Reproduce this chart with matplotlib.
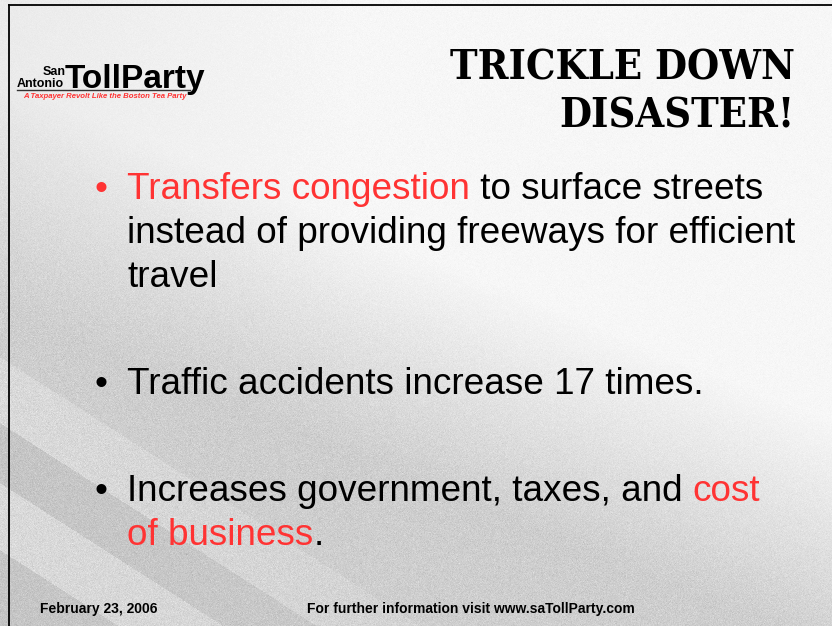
import numpy as np
import matplotlib
matplotlib.use("Agg")
from matplotlib import pyplot as plt

W, H = 832, 626
RED = "#ff3333"

title_lines = ["TRICKLE DOWN", "DISASTER!"]
logo_small = ["San", "Antonio"]
logo_big = "TollParty"
logo_tagline = "A Taxpayer Revolt Like the Boston Tea Party"

# each bullet: list of lines, each line a list of (text, is_red) pieces
bullets = [
    [[("Transfers congestion", True), (" to surface streets", False)],
     [("instead of providing freeways for efficient", False)],
     [("travel", False)]],
    [[("Traffic accidents increase 17 times.", False)]],
    [[("Increases government, taxes, and ", False), ("cost", True)],
     [("of business", True), (".", False)]],
]
bullet_red = [True, False, False]
bullet_baselines = [199, 394, 501]
line_step = 44

footer_date = "February 23, 2006"
footer_info = "For further information visit www.saTollParty.com"

plt.rcParams["font.family"] = ["Liberation Sans", "DejaVu Sans"]

fig = plt.figure(figsize=(W / 100, H / 100), dpi=100)
ax = fig.add_axes([0, 0, 1, 1])
ax.set_xlim(0, W)
ax.set_ylim(H, 0)
ax.axis("off")

# textured road background: light top / right, grey lower left, diagonal stripes
yy, xx = np.mgrid[0:H, 0:W].astype(float)
v = np.clip((yy - (80 + 0.41 * xx)) / 230, 0, 1)
top_left = 0.3 * np.clip(1 - xx / 350, 0, 1) * (1 - v)
bg = 0.965 - 0.16 * np.clip(v + top_left, 0, 1)
p = yy - 0.64 * xx
for lo, hi, d in [(357, 423, 0.045), (423, 483, -0.035), (483, 550, 0.045),
                  (550, 700, -0.035)]:
    band = (p > lo) & (p < hi)
    bg[band] += d * np.clip(1 - xx[band] / 750, 0, 1)
rng = np.random.default_rng(3)
bg += rng.normal(0, 0.015, bg.shape) * (0.4 + v)
bg = np.clip(bg, 0, 1)
ax.imshow(bg, cmap="gray", vmin=0, vmax=1, extent=(0, W, H, 0), aspect="auto", zorder=0)

# frame lines
ax.plot([9, W], [5, 5], color="black", lw=1.3, zorder=1)
ax.plot([9, 9], [5, H], color="black", lw=1.3, zorder=1)

# logo
ax.text(54, 75, logo_small[0], fontsize=9, fontweight="bold", ha="center", va="baseline")
ax.text(40, 87, logo_small[1], fontsize=9, fontweight="bold", ha="center", va="baseline")
ax.text(65, 88, logo_big, fontsize=24, fontweight="bold", ha="left", va="baseline")
ax.plot([17, 190], [90, 90], color="#333333", lw=1.0)
ax.text(105, 98.5, logo_tagline, fontsize=5.6, fontweight="bold", style="italic",
        color=RED, ha="center", va="baseline")

# title, sized to span the same width as the original
fig.canvas.draw()
renderer = fig.canvas.get_renderer()
inv = ax.transData.inverted()
probe = ax.text(0, 0, title_lines[0], fontsize=30, fontweight="heavy",
                family="DejaVu Serif", fontstretch="condensed")
tw = probe.get_window_extent(renderer).width
probe.remove()
title_fs = 30 * 345 / tw
for i, line in enumerate(title_lines):
    ax.text(795, 80 + i * 47, line, fontsize=title_fs, fontweight="heavy",
            family="DejaVu Serif", fontstretch="condensed", ha="right", va="baseline")

# bullets
fs = 26.6
for b, base, red_dot in zip(bullets, bullet_baselines, bullet_red):
    ax.text(95, base, "\u2022", fontsize=fs, color=RED if red_dot else "black",
            ha="left", va="baseline")
    for k, line in enumerate(b):
        x = 127
        y = base + k * line_step
        for txt, red in line:
            t = ax.text(x, y, txt, fontsize=fs, color=RED if red else "black",
                        ha="left", va="baseline")
            ext = t.get_window_extent(renderer)
            x = inv.transform((ext.x1, ext.y0))[0]

# footer
ax.text(40, 613, footer_date, fontsize=10, fontweight="bold", ha="left", va="baseline")
ax.text(307, 613, footer_info, fontsize=10, fontweight="bold", ha="left", va="baseline")

fig.savefig("out.png", dpi=100)
